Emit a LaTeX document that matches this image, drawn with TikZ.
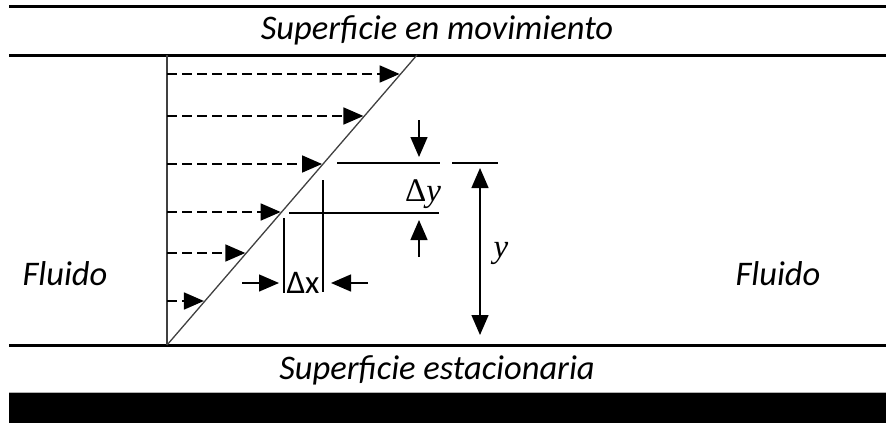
\documentclass[tikz,border=0pt]{standalone}
\usepackage{fontspec}
\setmainfont{Carlito}
\newfontfamily\mfont{Liberation Serif}
\usetikzlibrary{arrows.meta}
\begin{document}
\begin{tikzpicture}[x=1pt,y=-1pt,
  surf/.style={line width=3pt},
  tri/.style={-{Triangle[length=20pt,width=17pt]}},
  vel/.style={tri,line width=1.7pt,dash pattern=on 10pt off 5pt},
  meas/.style={line width=1.4pt},
  lab/.style={font=\fontsize{34.5}{40}\selectfont\itshape,inner sep=0pt,anchor=base},
  mlab/.style={font=\fontsize{33}{38}\selectfont\mfont,inner sep=0pt},
  ]
\useasboundingbox (0,0) rectangle (886,423);
% surfaces
\coordinate (tl) at (9,6); \coordinate (tr) at (886,6);
\coordinate (ml) at (9,55); \coordinate (mr) at (886,55);
\coordinate (bl) at (9,345); \coordinate (br) at (886,345);
\draw[surf] (tl) -- (tr);
\draw[surf] (ml) -- (mr);
\draw[surf] (bl) -- (br);
\fill[black] (9,393) rectangle (886,423);
\draw[gray!60,line width=0.8pt] (9,392.5) -- (886,392.5);
% texts
\node[lab] (top) at (437,39) {Superficie en movimiento};
\node[lab] (bot) at (437,379) {Superficie estacionaria};
\node[lab] (fl) at (65,285) {Fluido};
\node[lab] (fr) at (778,285) {Fluido};
% profile
\coordinate (O) at (167,345);
\coordinate (V) at (167,55);
\coordinate (T) at (417,55);
\draw[line width=1.8pt,black!75] (O) -- (V);
\draw[line width=1.3pt,black!75] (O) -- (T);
% velocity arrows
\foreach \yy [count=\i] in {74,116,164,212,253,301}{
  \coordinate (s\i) at (167,\yy);
  \coordinate (e\i) at ({167+(345-\yy)/290*250-1},\yy);
  \draw[vel] (s\i) -- (e\i);
}
% delta y lines
\coordinate (dy1a) at (337,163); \coordinate (dy1b) at (440,163);
\coordinate (dy2a) at (289,213); \coordinate (dy2b) at (439,213);
\coordinate (ya) at (452,163); \coordinate (yb) at (498,163);
\draw[meas] (dy1a) -- (dy1b);
\draw[meas] (dy2a) -- (dy2b);
\draw[meas] (ya) -- (yb);
% vertical lines for delta x
\coordinate (vx1a) at (284,218); \coordinate (vx1b) at (284,293);
\coordinate (vx2a) at (323,180); \coordinate (vx2b) at (323,292);
\draw[meas] (vx1a) -- (vx1b);
\draw[meas] (vx2a) -- (vx2b);
% delta x arrows
\coordinate (ax1) at (242,283); \coordinate (ax1t) at (279,283);
\coordinate (ax2) at (368,283); \coordinate (ax2t) at (331,283);
\draw[meas,tri] (ax1) -- (ax1t);
\draw[meas,tri] (ax2) -- (ax2t);
\node[font=\fontsize{33}{38}\selectfont,inner sep=0pt] (dx) at (303,283) {Δx};
% delta y arrows
\coordinate (ay1) at (419,120); \coordinate (ay1t) at (419,157);
\coordinate (ay2) at (419,257); \coordinate (ay2t) at (419,220);
\draw[meas,tri] (ay1) -- (ay1t);
\draw[meas,tri] (ay2) -- (ay2t);
\node[mlab] (dyl) at (423,194) {Δ\textit{y}};
% y arrow
\coordinate (yt) at (480,168); \coordinate (ybt) at (480,335);
\draw[meas,{Triangle[length=20pt,width=17pt]}-{Triangle[length=20pt,width=17pt]}] (yt) -- (ybt);
\node[mlab] (yl) at (501,253) {\textit{y}};
\end{tikzpicture}
\end{document}
